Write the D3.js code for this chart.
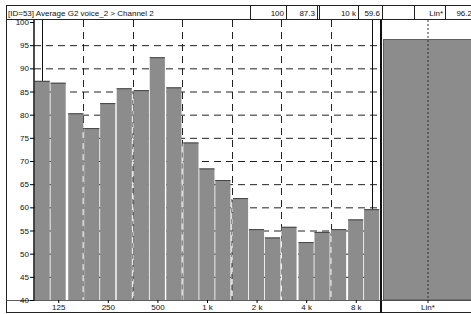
<!DOCTYPE html>
<html>
<head>
<meta charset="utf-8">
<script src="https://cdn.jsdelivr.net/npm/d3@7"></script>
<style>
  body { margin: 0; background: #fff; }
  svg { display: block; font-family: "Liberation Sans", Arial, sans-serif; }
</style>
</head>
<body>
<svg id="chart" width="471" height="314"></svg>
<script>
// 1/3 octave bands and levels (dB)
const bands = [100, 125, 160, 200, 250, 315, 400, 500, 630, 800, 1000, 1250, 1600, 2000, 2500, 3150, 4000, 5000, 6300, 8000, 10000];
const levels = [87.3, 86.9, 80.3, 77.1, 82.5, 85.7, 85.3, 92.4, 85.9, 74.0, 68.4, 65.9, 62.0, 55.3, 53.5, 55.8, 52.5, 54.7, 55.3, 57.4, 59.6];
const linLabel = ["Lin*"];
const linValue = [96.2];
const yTicks = [40, 45, 50, 55, 60, 65, 70, 75, 80, 85, 90, 95, 100];
const xTicks = [125, 250, 500, 1000, 2000, 4000, 8000];
const xTickLabels = ["125", "250", "500", "1 k", "2 k", "4 k", "8 k"];
const gridFreqs = [177, 354, 707, 1414, 2828, 5657];
const title = "[ID=53] Average G2 voice_2 > Channel 2";
const cursorFreqs = [100, 10000];
const header = [
  { x0: 250, x1: 286, text: "100" },
  { x0: 286, x1: 317, text: "87.3" },
  { x0: 319, x1: 358, text: "10 k" },
  { x0: 358, x1: 382, text: "59.6" },
  { x0: 382, x1: 414, text: "" },
  { x0: 414, x1: 445, text: "Lin*" },
  { x0: 445, x1: 474, text: "96.2" }
];

const svg = d3.select("#chart");
const barFill = "#8c8c8c";
const plotTop = 20, plotBottom = 300, plotLeft = 34, plotRight = 380;

const sixth = Math.pow(2, 1 / 6);
const x = d3.scaleLog()
  .domain([bands[0] / sixth, bands[bands.length - 1] * sixth])
  .range([plotLeft, plotRight]);
const y = d3.scaleLinear().domain([40, 100]).range([plotBottom, 22]);
const xLin = d3.scaleBand().domain(linLabel).range([382, 474]);

// frame
svg.append("rect").attr("x", 6.5).attr("y", 5.5).attr("width", 470).attr("height", 307)
  .attr("fill", "#fff").attr("stroke", "#222");

// horizontal grid
svg.append("g").selectAll("line")
  .data(yTicks.filter(d => d > 40 && d < 100))
  .enter().append("line")
  .attr("x1", plotLeft).attr("x2", plotRight)
  .attr("y1", d => y(d) + 0.5).attr("y2", d => y(d) + 0.5)
  .attr("stroke", "#222").attr("stroke-dasharray", "7,5");

// vertical grid (dark part above bars)
svg.append("g").selectAll("line")
  .data(gridFreqs)
  .enter().append("line")
  .attr("x1", d => Math.round(x(d)) + 0.5).attr("x2", d => Math.round(x(d)) + 0.5)
  .attr("y1", plotTop).attr("y2", plotBottom)
  .attr("stroke", "#222").attr("stroke-dasharray", "7,5");

// bars
const barData = bands.map((f, i) => ({ f: f, v: levels[i] }));
svg.append("g").selectAll("rect")
  .data(barData)
  .enter().append("rect")
  .attr("x", d => x(d.f / sixth) + 0.6)
  .attr("y", d => y(d.v))
  .attr("width", d => x(d.f * sixth) - x(d.f / sixth) - 1.4)
  .attr("height", d => plotBottom - y(d.v))
  .attr("fill", barFill);
// darker top edges
svg.append("g").selectAll("line")
  .data(barData)
  .enter().append("line")
  .attr("x1", d => x(d.f / sixth) + 0.6)
  .attr("x2", d => x(d.f * sixth) - 0.8)
  .attr("y1", d => y(d.v) + 0.5).attr("y2", d => y(d.v) + 0.5)
  .attr("stroke", "#444").attr("stroke-width", 1);

// grid lines inside the bars: grey gap + white dashes
const gridInBars = gridFreqs.map(g => {
  const lower = d3.min(barData.filter(d => Math.abs(Math.log2(d.f / g)) < 0.2), d => d.v);
  return { g: g, v: lower };
});
svg.append("g").selectAll("line")
  .data(gridInBars)
  .enter().append("line")
  .attr("x1", d => x(d.g)).attr("x2", d => x(d.g))
  .attr("y1", d => y(d.v) + 1).attr("y2", plotBottom)
  .attr("stroke", barFill).attr("stroke-width", 1.6);
svg.append("g").selectAll("line")
  .data(gridInBars)
  .enter().append("line")
  .attr("x1", d => x(d.g)).attr("x2", d => x(d.g))
  .attr("y1", d => y(d.v) + 4).attr("y2", plotBottom)
  .attr("stroke", "#fff").attr("stroke-width", 1).attr("stroke-dasharray", "6,5");

// cursors
svg.append("g").selectAll("line")
  .data(cursorFreqs)
  .enter().append("line")
  .attr("x1", d => Math.round(x(d)) + 0.5).attr("x2", d => Math.round(x(d)) + 0.5)
  .attr("y1", plotTop)
  .attr("y2", d => y(levels[bands.indexOf(d)]))
  .attr("stroke", "#111");

// Lin panel
svg.append("rect").attr("x", 382).attr("y", plotTop).attr("width", 92).attr("height", plotBottom - plotTop).attr("fill", "#fff");
svg.append("g").selectAll("rect")
  .data(linValue)
  .enter().append("rect")
  .attr("x", xLin(linLabel[0]) + 1.5)
  .attr("y", d => y(d))
  .attr("width", xLin.bandwidth())
  .attr("height", d => plotBottom - y(d))
  .attr("fill", barFill)
  .attr("stroke", "#444").attr("stroke-width", 0.8);
svg.append("line")
  .attr("x1", xLin(linLabel[0]) + xLin.bandwidth() / 2).attr("x2", xLin(linLabel[0]) + xLin.bandwidth() / 2)
  .attr("y1", plotTop).attr("y2", plotBottom)
  .attr("stroke", "#333").attr("stroke-dasharray", "2,2");

// axes
svg.append("line").attr("x1", plotLeft).attr("x2", plotLeft).attr("y1", plotTop).attr("y2", plotBottom + 1)
  .attr("stroke", "#111").attr("stroke-width", 1.5);
svg.append("line").attr("x1", 381).attr("x2", 381).attr("y1", plotTop).attr("y2", 313)
  .attr("stroke", "#111").attr("stroke-width", 2);
svg.append("line").attr("x1", 6).attr("x2", 471).attr("y1", plotBottom + 0.5).attr("y2", plotBottom + 0.5)
  .attr("stroke", "#333").attr("stroke-width", 0.8);

const yAxis = d3.axisLeft(y).tickValues(yTicks).tickSize(4).tickPadding(1).tickFormat(d3.format("d"));
svg.append("g").attr("transform", `translate(${plotLeft},0)`).call(yAxis)
  .call(g => g.select(".domain").remove())
  .call(g => g.selectAll("text").attr("font-size", 8).attr("fill", "#111").attr("font-family", "Liberation Sans, Arial, sans-serif"));

const xAxis = d3.axisBottom(x).tickValues(xTicks).tickSize(3).tickPadding(1)
  .tickFormat((d, i) => xTickLabels[i]);
svg.append("g").attr("transform", `translate(0,${plotBottom})`).call(xAxis)
  .call(g => g.select(".domain").remove())
  .call(g => g.selectAll("text").attr("font-size", 8).attr("fill", "#111").attr("font-family", "Liberation Sans, Arial, sans-serif"));

svg.append("text").attr("x", xLin(linLabel[0]) + xLin.bandwidth() / 2).attr("y", 310)
  .attr("text-anchor", "middle").attr("font-size", 8).attr("fill", "#111").text(linLabel[0]);
svg.append("line").attr("x1", xLin(linLabel[0]) + xLin.bandwidth() / 2).attr("x2", xLin(linLabel[0]) + xLin.bandwidth() / 2)
  .attr("y1", plotBottom).attr("y2", plotBottom + 3).attr("stroke", "#111");

// title bar
svg.append("rect").attr("x", 6.5).attr("y", 5.5).attr("width", 470).attr("height", 14)
  .attr("fill", "#fff").attr("stroke", "#222");
svg.append("text").attr("x", 8).attr("y", 15.5).attr("font-size", 8).attr("fill", "#111").text(title);
const hb = svg.append("g").selectAll("g").data(header).enter().append("g");
hb.append("rect")
  .attr("x", d => d.x0 + 0.5).attr("y", 5.5)
  .attr("width", d => d.x1 - d.x0).attr("height", 14)
  .attr("fill", "#fff").attr("stroke", "#222");
hb.append("text")
  .attr("x", d => d.x1 - 2).attr("y", 15.5)
  .attr("text-anchor", "end").attr("font-size", 8).attr("fill", "#111")
  .text(d => d.text);
</script>
</body>
</html>
